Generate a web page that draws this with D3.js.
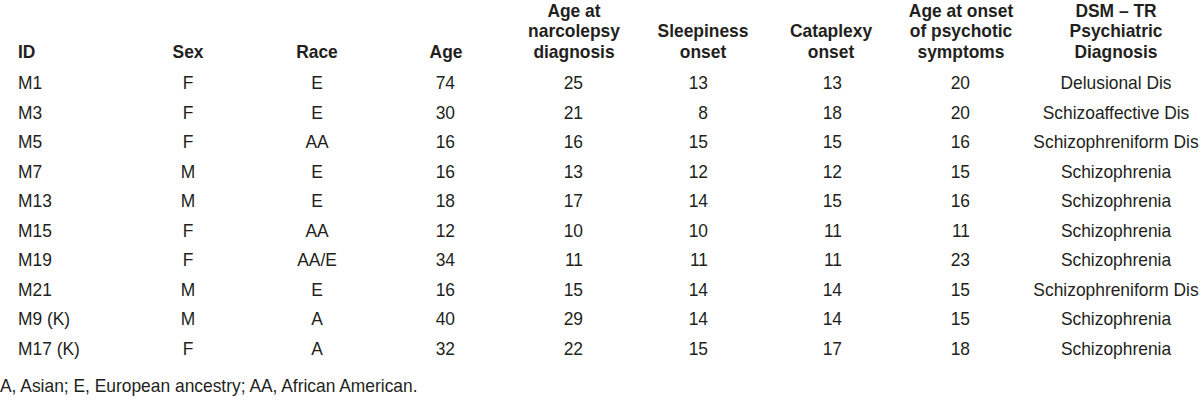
<!DOCTYPE html>
<html>
<head>
<meta charset="utf-8">
<script src="https://cdn.jsdelivr.net/npm/d3@7/dist/d3.min.js"></script>
<style>
  html, body { margin: 0; padding: 0; background: #fff; }
  svg { display: block; }
  text { font-family: "Liberation Sans", Arial, Helvetica, sans-serif; fill: #231f20; }
</style>
</head>
<body>
<script>
// ---- data ----
const ids = ["M1", "M3", "M5", "M7", "M13", "M15", "M19", "M21", "M9 (K)", "M17 (K)"];
const sex = ["F", "F", "F", "M", "M", "F", "F", "M", "M", "F"];
const race = ["E", "E", "AA", "E", "E", "AA", "AA/E", "E", "A", "A"];
const age = [74, 30, 16, 16, 18, 12, 34, 16, 40, 32];
const ageNarcolepsyDx = [25, 21, 16, 13, 17, 10, 11, 15, 29, 22];
const sleepinessOnset = [13, 8, 15, 12, 14, 10, 11, 14, 14, 15];
const cataplexyOnset = [13, 18, 15, 12, 15, 11, 11, 14, 14, 17];
const psychoticOnset = [20, 20, 16, 15, 16, 11, 23, 15, 15, 18];
const diagnosis = ["Delusional Dis", "Schizoaffective Dis", "Schizophreniform Dis", "Schizophrenia",
  "Schizophrenia", "Schizophrenia", "Schizophrenia", "Schizophreniform Dis", "Schizophrenia", "Schizophrenia"];
const headers = [
  ["ID"], ["Sex"], ["Race"], ["Age"],
  ["Age at", "narcolepsy", "diagnosis"],
  ["Sleepiness", "onset"],
  ["Cataplexy", "onset"],
  ["Age at onset", "of psychotic", "symptoms"],
  ["DSM \u2013 TR", "Psychiatric", "Diagnosis"]
];
const footnote = "A, Asian; E, European ancestry; AA, African American.";

// ---- layout ----
const W = 1200, H = 405, FS = 18, SX = 0.967;
const columns = [
  { values: ids, hx: 18, hAnchor: "start", vx: 18, vAnchor: "start" },
  { values: sex, hx: 188, hAnchor: "middle", vx: 188, vAnchor: "middle" },
  { values: race, hx: 317, hAnchor: "middle", vx: 317, vAnchor: "middle" },
  { values: age, hx: 446, hAnchor: "middle", vx: 455, vAnchor: "end" },
  { values: ageNarcolepsyDx, hx: 574, hAnchor: "middle", vx: 583, vAnchor: "end" },
  { values: sleepinessOnset, hx: 703, hAnchor: "middle", vx: 708, vAnchor: "end" },
  { values: cataplexyOnset, hx: 831, hAnchor: "middle", vx: 842, vAnchor: "end" },
  { values: psychoticOnset, hx: 961, hAnchor: "middle", vx: 970, vAnchor: "end" },
  { values: diagnosis, hx: 1116, hAnchor: "middle", vx: 1116, vAnchor: "middle" }
];

const svg = d3.select("body").append("svg").attr("width", W).attr("height", H);

const headerLine = d3.scaleLinear().domain([0, 2]).range([16.5, 57.5]);
const rowY = d3.scalePoint().domain(d3.range(ids.length)).range([89, 355]);

const place = (x, y) => `translate(${x},${y}) scale(${SX},1)`;

const head = svg.append("g").attr("font-size", FS);
columns.forEach((c, i) => {
  const lines = headers[i];
  const offset = 3 - lines.length;
  head.selectAll(null).data(lines).join("text")
    .attr("transform", (d, j) => place(c.hx, headerLine(j + offset)))
    .attr("text-anchor", c.hAnchor)
    .style("font-weight", "bold")
    .text(d => d);
});

const body = svg.append("g").attr("font-size", FS);
columns.forEach(c => {
  body.selectAll(null).data(c.values).join("text")
    .attr("transform", (d, r) => place(c.vx, rowY(r)))
    .attr("text-anchor", c.vAnchor)
    .text(d => d);
});

svg.append("text").attr("transform", place(0, 392)).attr("font-size", FS).text(footnote);
</script>
</body>
</html>
